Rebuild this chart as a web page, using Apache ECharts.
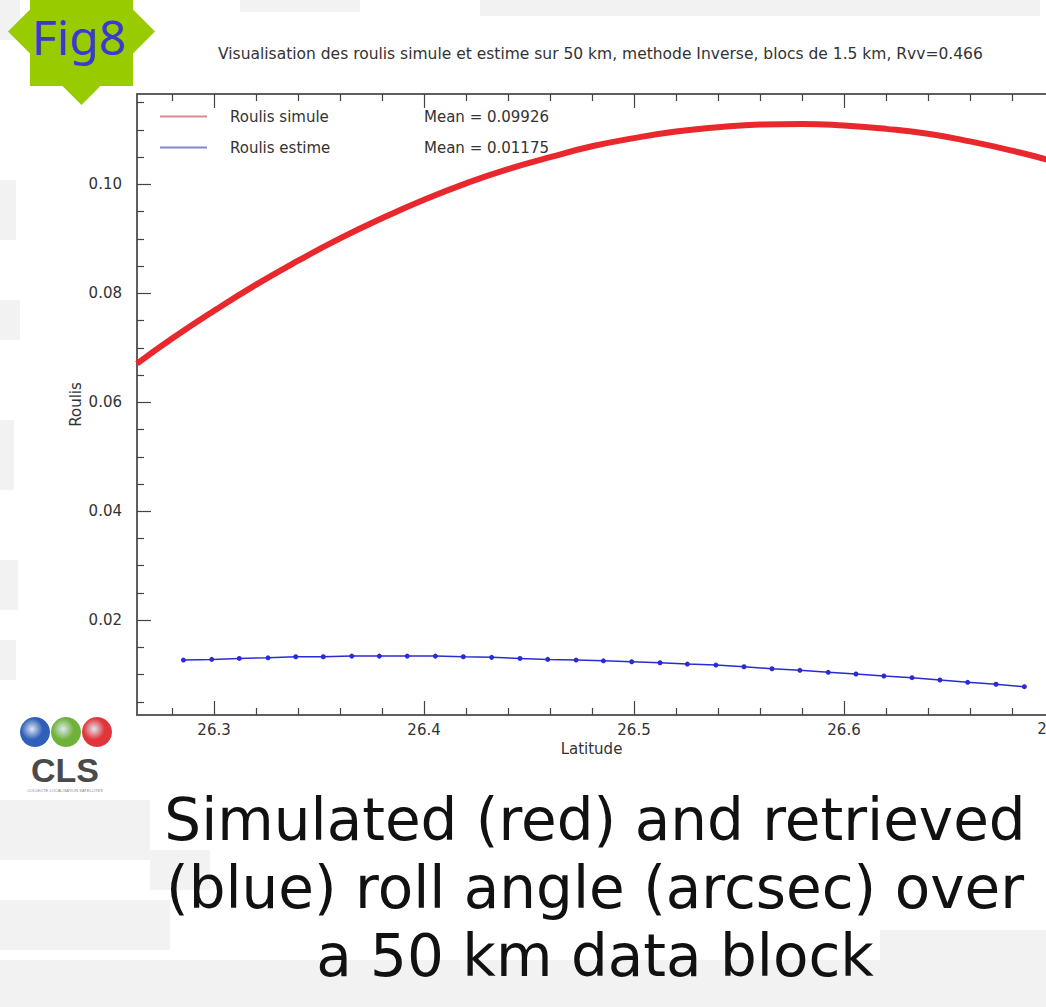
<!DOCTYPE html>
<html>
<head>
<meta charset="utf-8">
<script src="https://cdn.jsdelivr.net/npm/echarts@6/dist/echarts.min.js"></script>
<style>
html,body{margin:0;padding:0;background:#fff;}
#chart{width:1046px;height:1007px;}
</style>
</head>
<body>
<div id="chart"></div>
<script>
// ---- data ----
const titleText = 'Visualisation des roulis simule et estime sur 50 km, methode Inverse, blocs de 1.5 km, Rvv=0.466';
const seriesNames = ['Roulis simule', 'Roulis estime'];
const meanLabels = ['Mean = 0.09926', 'Mean = 0.01175'];

// simulated roll (red)
const redLat = [26.2633, 26.28, 26.30, 26.32, 26.34, 26.36, 26.38, 26.40, 26.42, 26.44, 26.46, 26.48,
                26.50, 26.52, 26.54, 26.56, 26.58, 26.60, 26.62, 26.64, 26.66, 26.68, 26.70, 26.72];
const redVal = [0.0671, 0.0717, 0.0768, 0.0816, 0.0860, 0.0901, 0.0938, 0.0972, 0.1002, 0.1028, 0.1050, 0.1070,
                0.1085, 0.1097, 0.1105, 0.1110, 0.1111, 0.1108, 0.1102, 0.1093, 0.1079, 0.1062, 0.1042, 0.1018];

// estimated roll (blue), one point per 1.5 km block
const blueLat = [26.2854, 26.2989, 26.3120, 26.3257, 26.3389, 26.3520, 26.3656, 26.3787, 26.3920, 26.4054,
                 26.4187, 26.4322, 26.4457, 26.4589, 26.4724, 26.4854, 26.4989, 26.5124, 26.5254, 26.5390,
                 26.5524, 26.5657, 26.5790, 26.5925, 26.6057, 26.6190, 26.6324, 26.6457, 26.6589, 26.6724, 26.6859];
const blueVal = [0.01268, 0.01281, 0.01299, 0.01310, 0.01329, 0.01329, 0.01341, 0.01341, 0.01341, 0.01341,
                 0.01329, 0.01318, 0.01299, 0.01281, 0.01268, 0.01255, 0.01237, 0.01219, 0.01195, 0.01177,
                 0.01146, 0.01109, 0.01080, 0.01044, 0.01012, 0.00976, 0.00945, 0.00902, 0.00860, 0.00824, 0.00780];

// axes (the plot continues past the right edge of the picture)
const xRange = [26.2633, 26.6962];
const xMajorTicks = [26.3, 26.4, 26.5, 26.6];
const xCutLabel = '26.7';
const xMinorTicks = [26.28, 26.32, 26.34, 26.36, 26.38, 26.42, 26.44, 26.46, 26.48,
                     26.52, 26.54, 26.56, 26.58, 26.62, 26.64, 26.66, 26.68];
const yRange = [0.0026, 0.1166];
const yMajorTicks = [0.02, 0.04, 0.06, 0.08, 0.10];
const yMinorTicks = [0.005, 0.01, 0.015, 0.025, 0.03, 0.035, 0.045, 0.05, 0.055, 0.065, 0.07, 0.075,
                     0.085, 0.09, 0.095, 0.105, 0.11, 0.115];
const captionLines = ['Simulated (red) and retrieved', '(blue) roll angle (arcsec) over', 'a 50 km data block'];

// ---- chart ----
const FONT = 'DejaVu Sans';
const FS = 15;
const AX = '#555';
const chart = echarts.init(document.getElementById('chart'), null, {renderer: 'svg', width: 1046, height: 1007});

function xAxisDef(pos, ticks, len, main) {
  return {
    type: 'value', gridIndex: 0, position: pos, min: xRange[0], max: xRange[1],
    name: main ? 'Latitude' : '', nameLocation: 'middle', nameGap: 25,
    nameTextStyle: {fontFamily: FONT, fontSize: FS, color: '#333'},
    axisLine: {show: true, onZero: false, lineStyle: {color: AX, width: 1.5}},
    axisTick: {show: true, inside: true, length: len, customValues: ticks, lineStyle: {color: '#444', width: 1.2}},
    axisLabel: main ? {show: true, customValues: ticks, margin: 7, fontFamily: FONT, fontSize: FS, color: '#333',
                       formatter: v => v.toFixed(1)} : {show: false},
    splitLine: {show: false}
  };
}
function yAxisDef(ticks, len, main) {
  return {
    type: 'value', gridIndex: 0, position: 'left', min: yRange[0], max: yRange[1],
    name: main ? 'Roulis' : '', nameLocation: 'middle', nameGap: 54, nameRotate: 90, nameMoveOverlap: false,
    nameTextStyle: {fontFamily: FONT, fontSize: FS, color: '#333'},
    axisLine: {show: true, onZero: false, lineStyle: {color: AX, width: 1.5}},
    axisTick: {show: true, inside: true, length: len, customValues: ticks, lineStyle: {color: '#444', width: 1.2}},
    axisLabel: main ? {show: true, customValues: ticks, margin: 15, fontFamily: FONT, fontSize: FS, color: '#333',
                       formatter: v => v.toFixed(2)} : {show: false},
    splitLine: {show: false}
  };
}

const graphics = [];
// light blocky background patches
const patches = [[0,0,20,40],[0,180,16,60],[0,300,20,40],[0,420,14,70],[0,560,18,50],[0,640,16,40],
                 [480,0,560,16],[240,0,120,12],[0,800,150,60],[0,900,170,50],[0,960,1046,47],
                 [150,850,60,40],[880,930,166,30]];
patches.forEach(p => graphics.push({type: 'rect', shape: {x: p[0], y: p[1], width: p[2], height: p[3]},
  style: {fill: '#f2f2f2'}, z: -10}));
// Fig8 badge
graphics.push({type: 'polygon', shape: {points: [[30,-17],[133,-17],[133,86],[30,86]]}, style: {fill: '#99cc00'}, z: 10});
graphics.push({type: 'polygon', shape: {points: [[81.5,-42],[155,31.5],[81.5,105],[8,31.5]]}, style: {fill: '#99cc00'}, z: 10});
graphics.push({type: 'text', x: 79, y: 36, z: 11, style: {text: 'Fig8', font: '48px "Noto Sans"', fill: '#3a3ad0',
  align: 'center', verticalAlign: 'middle'}});
// CLS logo
[['#2f5fb8', 35], ['#6fb23a', 66], ['#e0353a', 97]].forEach(c => graphics.push({type: 'circle',
  shape: {cx: c[1], cy: 732, r: 15},
  style: {fill: new echarts.graphic.RadialGradient(0.4, 0.4, 0.8, [{offset: 0, color: '#dfe8f0'}, {offset: 0.45, color: c[0]}, {offset: 1, color: c[0]}])}, z: 10}));
graphics.push({type: 'text', x: 65, y: 770, z: 10, style: {text: 'CLS', font: 'bold 34px "Liberation Sans"', fill: '#4a4a4a',
  align: 'center', verticalAlign: 'middle'}});
graphics.push({type: 'text', x: 65, y: 790, z: 10, style: {text: 'COLLECTE LOCALISATION SATELLITES', font: '4px "Liberation Sans"', fill: '#888',
  align: 'center', verticalAlign: 'middle'}});
// tick label cut by the right edge of the picture (as in the reference)
graphics.push({type: 'text', x: 1054, y: 729, z: 10, style: {text: xCutLabel, font: FS + 'px "' + FONT + '"', fill: '#333',
  align: 'center', verticalAlign: 'middle'}});
// Mean labels
meanLabels.forEach((t, i) => graphics.push({type: 'text', x: 424, y: 117 + i * 31, z: 10,
  style: {text: t, font: FS + 'px "' + FONT + '"', fill: '#333', verticalAlign: 'middle'}}));
// caption
captionLines.forEach((t, i) => graphics.push({type: 'text', x: 595, y: 820 + i * 68, z: 10,
  style: {text: t, font: '58px "DejaVu Sans"', fill: '#111', align: 'center', verticalAlign: 'middle'}}));

chart.setOption({
  backgroundColor: '#ffffff',
  animation: false,
  title: {text: titleText, left: 213, top: 41, textStyle: {fontFamily: FONT, fontSize: 15.5, fontWeight: 'normal', color: '#333'}},
  grid: {left: 137, top: 94, right: 0, height: 621, containLabel: false, show: true, backgroundColor: '#fff', borderWidth: 0},
  legend: {
    orient: 'vertical', left: 155, top: 104, itemWidth: 47, itemHeight: 2, itemGap: 16,
    textStyle: {fontFamily: FONT, fontSize: FS, color: '#333', padding: [0, 0, 0, 18]},
    data: [
      {name: seriesNames[0], icon: 'rect', itemStyle: {color: '#d98a8a'}},
      {name: seriesNames[1], icon: 'rect', itemStyle: {color: '#8585cc'}}
    ]
  },
  xAxis: [
    xAxisDef('bottom', xMajorTicks, 14, true),
    xAxisDef('bottom', xMinorTicks, 7, false),
    xAxisDef('top', xMajorTicks, 14, false),
    xAxisDef('top', xMinorTicks, 7, false)
  ],
  yAxis: [
    yAxisDef(yMajorTicks, 14, true),
    yAxisDef(yMinorTicks, 7, false)
  ],
  graphic: graphics,
  series: [
    {
      name: seriesNames[0], type: 'line', xAxisIndex: 0, yAxisIndex: 0,
      data: redLat.map((x, i) => [x, redVal[i]]),
      smooth: true, symbol: 'none', clip: true,
      lineStyle: {color: '#e8282c', width: 6}, itemStyle: {color: '#e8282c'}
    },
    {
      name: seriesNames[1], type: 'line', xAxisIndex: 0, yAxisIndex: 0,
      data: blueLat.map((x, i) => [x, blueVal[i]]),
      symbol: 'circle', symbolSize: 5, clip: true,
      lineStyle: {color: '#2b2bd6', width: 1.5}, itemStyle: {color: '#2b2bd6'}
    }
  ]
});
</script>
</body>
</html>
